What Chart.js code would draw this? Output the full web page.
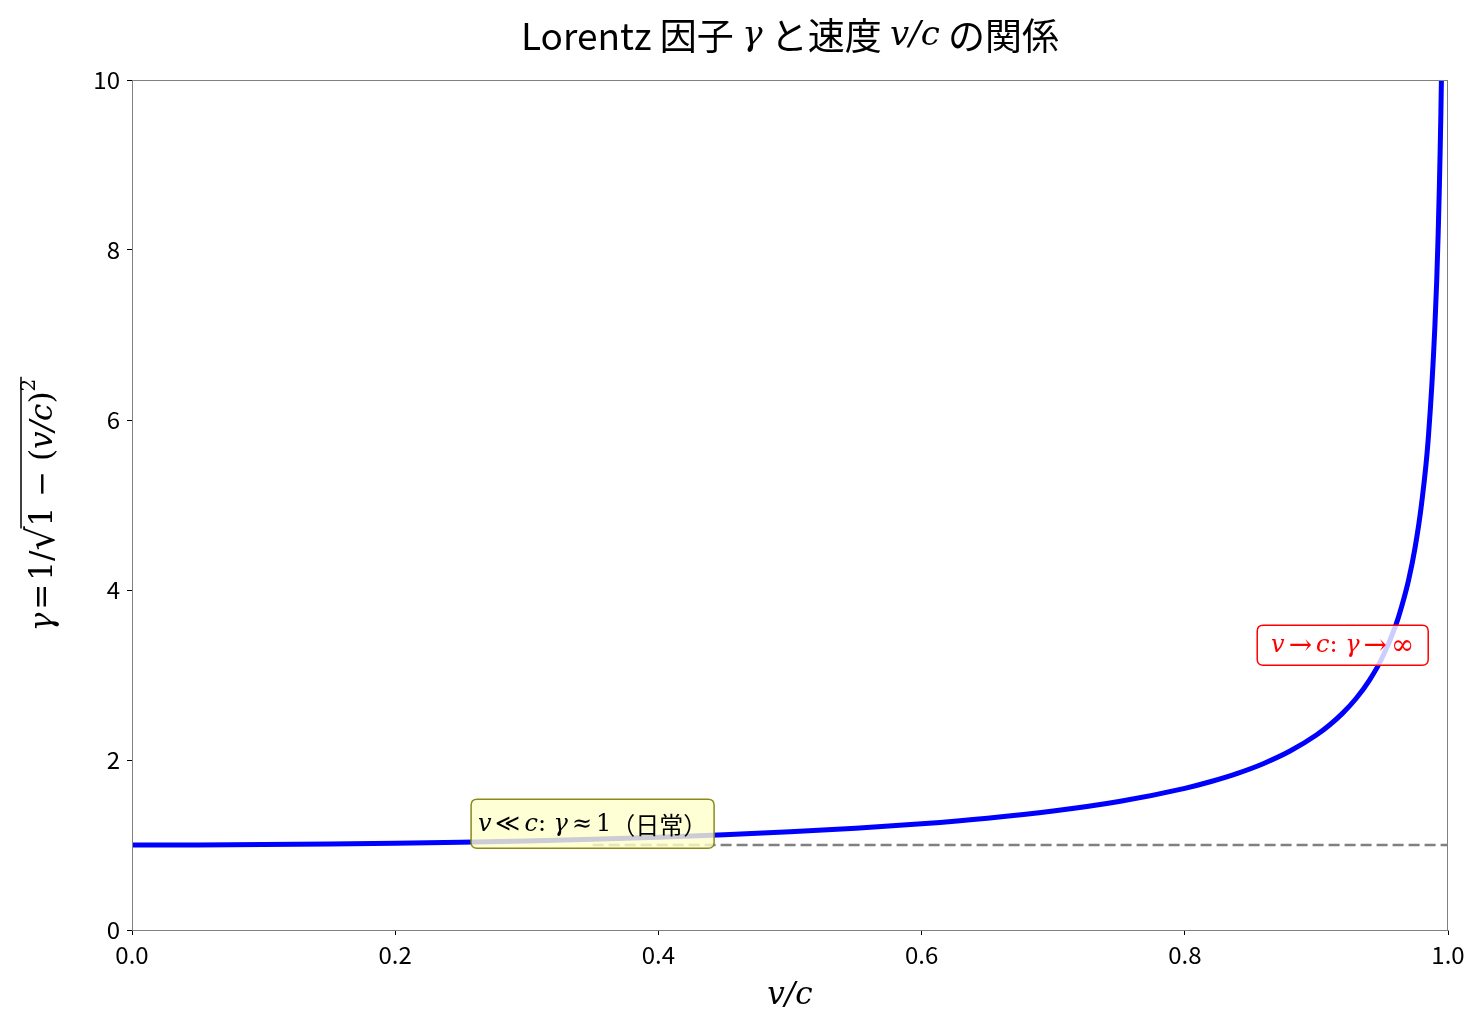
<!DOCTYPE html>
<html><head><meta charset="utf-8">
<script src="https://cdn.jsdelivr.net/npm/chart.js@4/dist/chart.umd.min.js"></script>
<style>html,body{margin:0;padding:0;background:#fff}#wrap{width:1482px;height:1031px}</style>
</head><body><div id="wrap"><canvas id="c" width="1482" height="1031"></canvas></div>
<script>
// velocity ratio v/c (x) and Lorentz factor gamma (y)
const vOverC = [0,0.05,0.1,0.15,0.2,0.25,0.3,0.35,0.4,0.45,0.5,0.55,0.6,0.65,0.7,0.75,0.8,0.82,0.84,0.86,0.88,0.9,0.91,0.92,0.93,0.94,0.95,0.96,0.965,0.97,0.975,0.98,0.985,0.99,0.9925,0.995,0.997];
const gammaVals = [1,1.0013,1.005,1.0114,1.0206,1.0328,1.0483,1.0675,1.0911,1.1198,1.1547,1.1974,1.25,1.3159,1.4003,1.5119,1.6667,1.7471,1.843,1.9596,2.1054,2.2942,2.4119,2.5516,2.7206,2.931,3.2026,3.5714,3.8178,4.1135,4.5004,5.0252,5.7794,7.0888,8.173,10.0125,12.91];
const refX = [0.35,1];
const refY = [1,1];
const xTicks = [0,0.2,0.4,0.6,0.8,1.0];
const yTicks = [0,2,4,6,8,10];

const SANS = '"Noto Sans CJK JP","Noto Sans",sans-serif';
const MS = '"DejaVu Serif","Liberation Serif",serif';
const SERIF_I = 'italic 31px '+MS;
const SERIF = '31px '+MS;

function richWidth(ctx, segs){let w=0;for(const s of segs){ctx.font=s.f;w+=ctx.measureText(s.t).width+(s.dx||0);}return w;}
function drawRich(ctx, segs, cx, cy, color, overY){
  const w=richWidth(ctx,segs);let x=cx-w/2;
  ctx.fillStyle=color;ctx.textBaseline='middle';ctx.textAlign='left';
  const over=[];
  for(const s of segs){ctx.font=s.f;x+=(s.dx||0);ctx.fillText(s.t,x,cy+(s.dy||0));const sw=ctx.measureText(s.t).width;if(s.over)over.push([x,x+sw]);x+=sw;}
  if(over.length){ctx.strokeStyle=color;ctx.lineWidth=1.5;ctx.beginPath();ctx.moveTo(over[0][0]-2,cy+overY);ctx.lineTo(over[over.length-1][1]+2,cy+overY);ctx.stroke();}
  return w;
}
function roundRect(ctx,x,y,w,h,r){ctx.beginPath();ctx.moveTo(x+r,y);ctx.lineTo(x+w-r,y);ctx.quadraticCurveTo(x+w,y,x+w,y+r);ctx.lineTo(x+w,y+h-r);ctx.quadraticCurveTo(x+w,y+h,x+w-r,y+h);ctx.lineTo(x+r,y+h);ctx.quadraticCurveTo(x,y+h,x,y+h-r);ctx.lineTo(x,y+r);ctx.quadraticCurveTo(x,y,x+r,y);ctx.closePath();}

const decor = {
  id:'decor',
  afterDraw(chart){
    const ctx=chart.ctx, a=chart.chartArea, xs=chart.scales.x, ys=chart.scales.y;
    ctx.save();
    ctx.strokeStyle='#808080';ctx.lineWidth=1;
    ctx.strokeRect(a.left+0.5,a.top+0.5,a.right-a.left-1,a.bottom-a.top);
    const ann=[
      {x:0.35,y:1.25,w:243,segs:[{t:'v',f:'italic 24px '+MS},{t:'≪',f:'24px '+MS,dx:4},{t:'c',f:'italic 24px '+MS,dx:4},{t:': ',f:'24px '+MS},{t:'γ',f:'italic 24px '+MS},{t:'≈',f:'24px '+MS,dx:4},{t:'1',f:'24px '+MS,dx:4},{t:'（日常）',f:'24px '+SANS}],
       fill:'rgba(255,255,204,0.8)',stroke:'#8a8a1a',color:'#000',h:49},
      {x:0.92,y:3.35,w:171,segs:[{t:'v',f:'italic 24px '+MS},{t:'→',f:'28px '+MS,dx:4},{t:'c',f:'italic 24px '+MS,dx:4},{t:': ',f:'24px '+MS},{t:'γ',f:'italic 24px '+MS},{t:'→',f:'28px '+MS,dx:4},{t:'∞',f:'28px '+MS,dx:4}],
       fill:'rgba(255,255,255,0.8)',stroke:'#ff0000',color:'#ff0000',h:40}
    ];
    for(const an of ann){
      const cx=xs.getPixelForValue(an.x), cy=ys.getPixelForValue(an.y);
      const w=an.w;
      roundRect(ctx,cx-w/2,cy-an.h/2,w,an.h,6);
      ctx.fillStyle=an.fill;ctx.fill();ctx.lineWidth=1.5;ctx.strokeStyle=an.stroke;ctx.stroke();
      drawRich(ctx,an.segs,cx,cy+1,an.color);
    }
    const midX=(a.left+a.right)/2;
    drawRich(ctx,[{t:'Lorentz 因子 ',f:'37px '+SANS},{t:'γ',f:'italic 34px '+MS},{t:' と速度 ',f:'37px '+SANS},{t:'v/c',f:'italic 34px '+MS},{t:' の関係',f:'37px '+SANS}],midX,36,'#000');
    drawRich(ctx,[{t:'v/c',f:SERIF_I}],midX,996,'#000');
    ctx.save();ctx.translate(44,(a.top+a.bottom)/2);ctx.rotate(-Math.PI/2);
    drawRich(ctx,[{t:'γ',f:SERIF_I},{t:'=',f:SERIF,dx:3},{t:'1/',f:SERIF,dx:3},{t:'√',f:'38px '+MS},{t:'1 − (',f:SERIF,over:true},{t:'v/c',f:SERIF_I,over:true},{t:')',f:SERIF,over:true},{t:'2',f:'20px '+MS,dy:-14,over:true}],0,0,'#000',-23);
    ctx.restore();
    ctx.restore();
  }
};

const data = {
  datasets:[
    {data:vOverC.map((v,i)=>({x:v,y:gammaVals[i]})),borderColor:'#0000ff',borderWidth:5,pointRadius:0,cubicInterpolationMode:'monotone',order:1},
    {data:refX.map((v,i)=>({x:v,y:refY[i]})),borderColor:'#808080',borderWidth:2.5,borderDash:[11,5],pointRadius:0,order:2}
  ]
};

new Chart(document.getElementById('c'),{
  type:'line',data,
  options:{
    responsive:false,animation:false,
    layout:{padding:{top:80,right:34,left:0,bottom:0}},
    plugins:{legend:{display:false},tooltip:{enabled:false},title:{display:false}},
    scales:{
      x:{type:'linear',min:0,max:1,
        afterFit(s){s.height=101;},
        afterBuildTicks(s){s.ticks=xTicks.map(v=>({value:v}));},
        ticks:{color:'#000',font:{family:SANS,size:24},padding:5,callback:v=>v.toFixed(1),maxRotation:0},
        grid:{drawOnChartArea:false,drawTicks:true,tickLength:5,color:'#000'},
        border:{display:true,color:'#808080'}},
      y:{type:'linear',min:0,max:10,
        afterFit(s){s.width=132;},
        afterBuildTicks(s){s.ticks=yTicks.map(v=>({value:v}));},
        ticks:{color:'#000',font:{family:SANS,size:24},padding:7,callback:v=>String(v)},
        grid:{drawOnChartArea:false,drawTicks:true,tickLength:5,color:'#000'},
        border:{display:true,color:'#808080'}}
    }
  },
  plugins:[decor]
});
</script></body></html>
